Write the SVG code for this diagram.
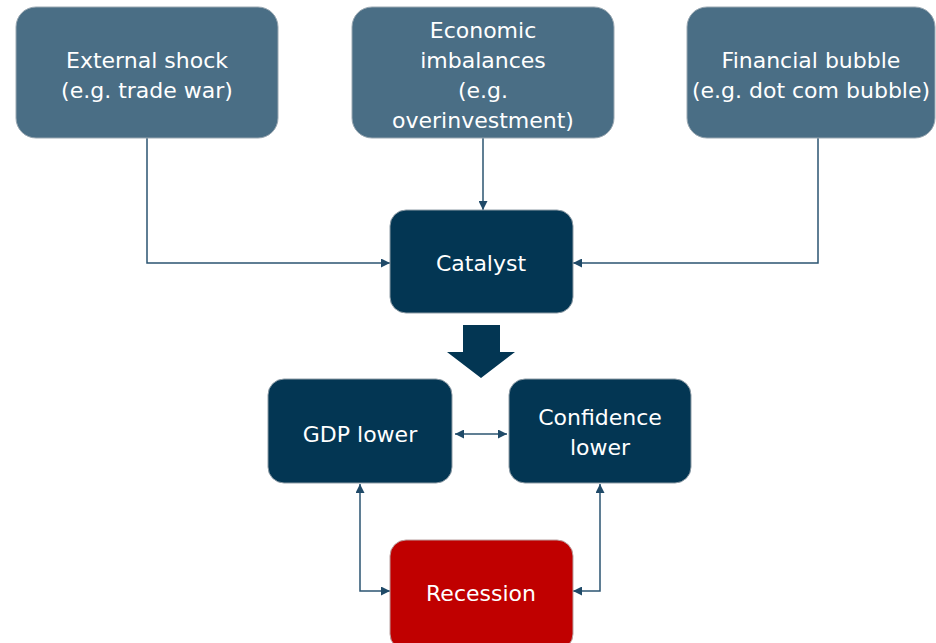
<svg xmlns="http://www.w3.org/2000/svg" width="936" height="643" viewBox="0 0 936 643">
<style>
.top{fill:#4a6e85;stroke:#9aa8b2;stroke-width:1}
.dark{fill:#033653;stroke:#8e9ca6;stroke-width:1}
.red{fill:#c00000;stroke:#b9a0a0;stroke-width:1}
text{font-family:"DejaVu Sans","Liberation Sans",sans-serif;font-size:22px;fill:#ffffff;text-anchor:middle}
.conn{fill:none;stroke:#2b5471;stroke-width:1.5}
</style>
<defs>
<marker id="ah" viewBox="0 0 10 10" refX="10" refY="5" markerWidth="9" markerHeight="9" markerUnits="userSpaceOnUse" orient="auto-start-reverse">
<path d="M0,0 L10,5 L0,10 z" fill="#1f4a68"/>
</marker>
</defs>
<rect width="936" height="643" fill="#ffffff"/>
<g id="connectors">
<path class="conn" d="M147,138 V263 H390" marker-end="url(#ah)"/>
<path class="conn" d="M483,138 V210" marker-end="url(#ah)"/>
<path class="conn" d="M818,138 V263 H573" marker-end="url(#ah)"/>
<path class="conn" d="M455,434 H507" marker-start="url(#ah)" marker-end="url(#ah)"/>
<path class="conn" d="M360,484 V591 H390" marker-start="url(#ah)" marker-end="url(#ah)"/>
<path class="conn" d="M600,484 V591 H573" marker-start="url(#ah)" marker-end="url(#ah)"/>
<path d="M463,325 H500 V352 H515 L481,378 L447,352 H463 z" fill="#033653"/>
</g>
<g id="external-shock">
<rect class="top" x="16" y="7" width="262" height="131" rx="20"/>
<text x="147" y="68">External shock</text>
<text x="147" y="98">(e.g. trade war)</text>
</g>
<g id="economic-imbalances">
<rect class="top" x="352" y="7" width="262" height="131" rx="20"/>
<text x="483" y="38">Economic</text>
<text x="483" y="68">imbalances</text>
<text x="483" y="98">(e.g.</text>
<text x="483" y="128">overinvestment)</text>
</g>
<g id="financial-bubble">
<rect class="top" x="687" y="7" width="248" height="131" rx="20"/>
<text x="811" y="68">Financial bubble</text>
<text x="811" y="98">(e.g. dot com bubble)</text>
</g>
<g id="catalyst">
<rect class="dark" x="390" y="210" width="183" height="103" rx="16"/>
<text x="481" y="271">Catalyst</text>
</g>
<g id="gdp-lower">
<rect class="dark" x="268" y="379" width="184" height="104" rx="16"/>
<text x="360" y="442">GDP lower</text>
</g>
<g id="confidence-lower">
<rect class="dark" x="509" y="379" width="182" height="104" rx="16"/>
<text x="600" y="425">Confidence</text>
<text x="600" y="455">lower</text>
</g>
<g id="recession">
<rect class="red" x="390" y="540" width="183" height="110" rx="16"/>
<text x="481" y="601">Recession</text>
</g>
</svg>
